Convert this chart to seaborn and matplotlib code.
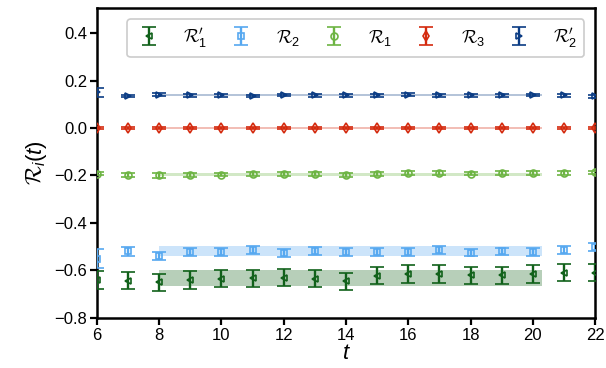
import numpy as np
import matplotlib
matplotlib.use("Agg")
from matplotlib import pyplot as plt
import seaborn as sns

# time slices
t = np.arange(6, 23)

# series values (R1', R2, R1, R3, R2')
r1p = [-0.640, -0.643, -0.650, -0.640, -0.635, -0.633, -0.630, -0.635, -0.645,
       -0.622, -0.615, -0.615, -0.620, -0.620, -0.615, -0.610, -0.610]
r1p_err = [0.038, 0.036, 0.037, 0.036, 0.036, 0.036, 0.036, 0.036, 0.036,
           0.036, 0.036, 0.036, 0.036, 0.036, 0.036, 0.036, 0.036]
r2 = [-0.550, -0.520, -0.540, -0.522, -0.522, -0.515, -0.527, -0.518, -0.522,
      -0.522, -0.523, -0.515, -0.525, -0.520, -0.522, -0.515, -0.500]
r2_err = [0.040, 0.018, 0.018, 0.016, 0.016, 0.016, 0.016, 0.016, 0.016,
          0.016, 0.016, 0.016, 0.016, 0.016, 0.016, 0.016, 0.016]
r1 = [-0.192, -0.197, -0.200, -0.197, -0.196, -0.195, -0.195, -0.195, -0.197,
      -0.193, -0.191, -0.191, -0.192, -0.191, -0.190, -0.190, -0.187]
r1_err = [0.008, 0.008, 0.009, 0.008, 0.008, 0.008, 0.008, 0.008, 0.008,
          0.008, 0.008, 0.008, 0.008, 0.008, 0.008, 0.008, 0.008]
r3 = [0.0] * 17
r3_err = [0.003] * 17
r2p = [0.150, 0.135, 0.140, 0.138, 0.138, 0.136, 0.139, 0.138, 0.138,
       0.138, 0.140, 0.137, 0.138, 0.138, 0.139, 0.137, 0.133]
r2p_err = [0.018, 0.006, 0.007, 0.006, 0.006, 0.005, 0.006, 0.006, 0.006,
           0.006, 0.007, 0.006, 0.006, 0.006, 0.006, 0.006, 0.005]

# fit bands: (center, half width), fit range in t
band_center = [-0.632, -0.518, -0.195, 0.0, 0.139]
band_half = [0.035, 0.022, 0.007, 0.003, 0.006]
fit_range = (8, 20.3)

# '0' in cmsy10 is the prime glyph
labels = [r"$\mathcal{R}^{\mathcal{0}}_1$", r"$\mathcal{R}_2$", r"$\mathcal{R}_1$",
          r"$\mathcal{R}_3$", r"$\mathcal{R}^{\mathcal{0}}_2$"]
colors = ["#11611a", "#56a8f0", "#6db443", "#d42a0e", "#0b3c84"]
markers = ["<", "s", "o", "d", ">"]

sns.set_theme(style="ticks")
plt.rcParams["font.family"] = ["Liberation Sans", "DejaVu Sans"]
plt.rcParams["mathtext.fontset"] = "custom"
plt.rcParams["mathtext.rm"] = "Liberation Sans"
plt.rcParams["mathtext.it"] = "Liberation Sans:italic"
plt.rcParams["mathtext.cal"] = "cmsy10"
plt.rcParams["mathtext.fallback"] = "cm"
plt.rcParams["text.color"] = "black"
plt.rcParams["axes.labelcolor"] = "black"
plt.rcParams["xtick.color"] = "black"
plt.rcParams["ytick.color"] = "black"

fig, ax = plt.subplots(figsize=(6.06, 3.68), dpi=100)
fig.subplots_adjust(left=0.160, right=0.982, top=0.978, bottom=0.136)

series = [(r1p, r1p_err), (r2, r2_err), (r1, r1_err), (r3, r3_err), (r2p, r2p_err)]
for (y, err), c, m, lab, bc, bh in zip(series, colors, markers, labels,
                                       band_center, band_half):
    ax.fill_between(fit_range, bc - bh, bc + bh, color=c, alpha=0.3, lw=0,
                    zorder=1)
    ax.errorbar(t, y, yerr=err, fmt=m, color=c, mfc="none", mec=c, ms=5,
                mew=1.2, elinewidth=1.7, capsize=5, capthick=1.7, label=lab,
                zorder=3)

ax.set_xlim(6, 22)
ax.set_ylim(-0.8, 0.505)
ax.set_xticks(range(6, 23, 2))
ax.set_yticks([-0.8, -0.6, -0.4, -0.2, 0.0, 0.2, 0.4])
ax.set_xlabel(r"$t$", fontsize=16, labelpad=0)
ax.set_ylabel(r"$\mathcal{R}_i(t)$", fontsize=16, labelpad=4)
ax.tick_params(labelsize=12, width=1.6, length=5, direction="out", pad=2)
for sp in ax.spines.values():
    sp.set_linewidth(1.8)
    sp.set_color("black")
    sp.set_visible(True)

leg = ax.legend(loc="upper right", ncol=5, fontsize=13, frameon=True,
                fancybox=True, framealpha=1, edgecolor="#cccccc",
                borderaxespad=0.6, columnspacing=1.1, handletextpad=1.1,
                handlelength=1.6)
leg.get_frame().set_linewidth(1.2)

fig.savefig("out.png", dpi=100)
